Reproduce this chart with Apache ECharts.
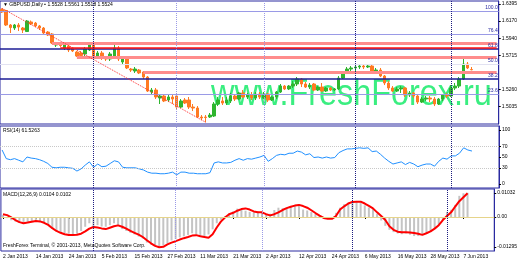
<!DOCTYPE html>
<html>
<head>
<meta charset="utf-8">
<script src="https://cdn.jsdelivr.net/npm/echarts@6/dist/echarts.min.js"></script>
<style>
html,body{margin:0;padding:0;background:#ffffff;}
#chart{width:520px;height:260px;}
</style>
</head>
<body>
<div id="chart"></div>
<script>
// ---------- DATA ----------
const monthDays = {
  Jan: [2,3,4,7,8,9,10,11,14,15,16,17,18,21,22,23,24,25,28,29,30,31],
  Feb: [1,4,5,6,7,8,11,12,13,14,15,18,19,20,21,22,25,26,27,28],
  Mar: [1,4,5,6,7,8,11,12,13,14,15,18,19,20,21,22,25,26,27,28,29],
  Apr: [1,2,3,4,5,8,9,10,11,12,15,16,17,18,19,22,23,24,25,26,29,30],
  May: [1,2,3,6,7,8,9,10,13,14,15,16,17,20,21,22,23,24,27,28,29,30,31],
  Jun: [3,4,5,6,7,10,11,12,13,14,17,18]
};
const categories = [];
Object.keys(monthDays).forEach(m => monthDays[m].forEach(d => categories.push(d + ' ' + m + ' 2013')));

const open = [1.6322,1.6309,1.6117,1.6077,1.6117,1.6077,1.6031,1.6157,1.6143,1.6104,
1.6077,1.6024,1.5998,1.5852,1.5852,1.5812,1.5839,1.5812,1.5759,1.5746,
1.5733,1.5786,1.5865,1.5706,1.5746,1.5680,1.5667,1.5706,1.5812,1.5627,
1.5667,1.5534,1.5508,1.5521,1.5495,1.5428,1.5230,1.5256,1.5150,1.5177,
1.5124,1.5164,1.5177,1.5031,1.5124,1.5124,1.5031,1.5018,1.4899,1.4899,
1.4899,1.4912,1.5071,1.5111,1.5084,1.5111,1.5177,1.5137,1.5217,1.5164,
1.5190,1.5150,1.5203,1.5150,1.5203,1.5124,1.5164,1.5230,1.5309,1.5270,
1.5309,1.5336,1.5402,1.5336,1.5296,1.5336,1.5256,1.5296,1.5243,1.5283,
1.5256,1.5270,1.5415,1.5482,1.5534,1.5548,1.5561,1.5574,1.5561,1.5574,
1.5495,1.5521,1.5442,1.5349,1.5283,1.5243,1.5270,1.5283,1.5190,1.5217,
1.5177,1.5097,1.5137,1.5150,1.5137,1.5071,1.5137,1.5190,1.5177,1.5283,
1.5309,1.5402,1.5600,1.5528];
const close = [1.6289,1.6117,1.6084,1.6117,1.6090,1.6051,1.6170,1.6130,1.6104,1.6077,
1.6011,1.5985,1.5879,1.5872,1.5845,1.5865,1.5786,1.5773,1.5706,1.5713,
1.5799,1.5865,1.5706,1.5746,1.5693,1.5667,1.5733,1.5812,1.5667,1.5667,
1.5548,1.5521,1.5534,1.5482,1.5428,1.5243,1.5256,1.5164,1.5177,1.5111,
1.5164,1.5137,1.5031,1.5111,1.5084,1.5031,1.5018,1.4899,1.4886,1.4892,
1.4925,1.5071,1.5124,1.5084,1.5124,1.5177,1.5137,1.5217,1.5164,1.5190,
1.5150,1.5203,1.5164,1.5203,1.5124,1.5164,1.5230,1.5309,1.5270,1.5309,
1.5336,1.5402,1.5336,1.5296,1.5322,1.5256,1.5296,1.5243,1.5283,1.5256,
1.5270,1.5415,1.5482,1.5534,1.5548,1.5561,1.5574,1.5561,1.5574,1.5495,
1.5521,1.5442,1.5349,1.5283,1.5243,1.5270,1.5283,1.5190,1.5217,1.5177,
1.5097,1.5137,1.5150,1.5137,1.5071,1.5137,1.5190,1.5177,1.5283,1.5309,
1.5402,1.5600,1.5548,1.5524];
const low = [1.6276,1.6104,1.6011,1.6051,1.6037,1.6011,1.6024,1.6117,1.6090,1.6051,
1.5998,1.5971,1.5865,1.5826,1.5826,1.5786,1.5759,1.5759,1.5693,1.5693,
1.5706,1.5773,1.5680,1.5680,1.5654,1.5640,1.5640,1.5693,1.5640,1.5600,
1.5534,1.5495,1.5482,1.5468,1.5402,1.5230,1.5190,1.5137,1.5071,1.5097,
1.5097,1.5071,1.4992,1.5018,1.5071,1.5005,1.4978,1.4886,1.4859,1.4829,
1.4886,1.4899,1.5044,1.5058,1.5058,1.5084,1.5111,1.5124,1.5150,1.5137,
1.5124,1.5124,1.5137,1.5137,1.5097,1.5111,1.5137,1.5217,1.5256,1.5256,
1.5283,1.5309,1.5296,1.5283,1.5270,1.5243,1.5243,1.5230,1.5230,1.5243,
1.5243,1.5256,1.5402,1.5468,1.5495,1.5508,1.5534,1.5534,1.5548,1.5482,
1.5482,1.5428,1.5322,1.5256,1.5230,1.5230,1.5217,1.5164,1.5164,1.5150,
1.5071,1.5084,1.5111,1.5097,1.5044,1.5058,1.5111,1.5150,1.5164,1.5256,
1.5283,1.5389,1.5534,1.5518];
const high = [1.6338,1.6316,1.6130,1.6130,1.6143,1.6090,1.6183,1.6176,1.6157,1.6117,
1.6090,1.6037,1.6011,1.5892,1.5879,1.5892,1.5852,1.5826,1.5773,1.5773,
1.5826,1.5879,1.5879,1.5773,1.5773,1.5693,1.5759,1.5865,1.5839,1.5693,
1.5680,1.5548,1.5561,1.5534,1.5508,1.5442,1.5283,1.5283,1.5203,1.5203,
1.5203,1.5190,1.5203,1.5137,1.5150,1.5164,1.5071,1.5044,1.4925,1.4925,
1.4952,1.5097,1.5164,1.5164,1.5164,1.5217,1.5203,1.5230,1.5256,1.5217,
1.5230,1.5230,1.5230,1.5230,1.5217,1.5177,1.5243,1.5336,1.5322,1.5322,
1.5375,1.5428,1.5415,1.5362,1.5349,1.5349,1.5309,1.5349,1.5296,1.5296,
1.5283,1.5442,1.5508,1.5561,1.5574,1.5587,1.5600,1.5600,1.5600,1.5587,
1.5548,1.5548,1.5455,1.5375,1.5309,1.5296,1.5309,1.5296,1.5243,1.5230,
1.5203,1.5164,1.5177,1.5177,1.5164,1.5150,1.5203,1.5217,1.5322,1.5349,
1.5428,1.5680,1.5627,1.5561];

const rsi = [63,47,45,47,44,41,50,48,47,45,
42,38,31,30,31,31,30,29,24,28,
35,41,31,37,32,33,38,43,41,31,
30,30,30,28,26,22,20,20,19,19,
20,22,17,22,22,20,20,19,19,19,
21,39,41,39,39,40,44,47,44,47,
46,48,50,53,42,47,53,55,54,57,
57,61,59,54,56,49,50,48,50,48,
49,58,62,65,65,66,67,66,67,60,
61,55,48,42,37,39,41,36,40,37,
32,35,37,37,33,42,48,46,52,52,
57,67,63,61];

const macdHist = [0.0008,-0.0005,-0.0014,-0.0019,-0.0025,-0.0024,-0.0021,-0.0017,-0.0014,-0.0019,
-0.0025,-0.0034,-0.0050,-0.0061,-0.0066,-0.0069,-0.0072,-0.0075,-0.0072,-0.0060,
-0.0042,-0.0027,-0.0040,-0.0035,-0.0041,-0.0042,-0.0035,-0.0027,-0.0034,-0.0052,
-0.0060,-0.0068,-0.0075,-0.0084,-0.0092,-0.0110,-0.0118,-0.0123,-0.0128,-0.0121,
-0.0113,-0.0101,-0.0094,-0.0088,-0.0083,-0.0077,-0.0070,-0.0075,-0.0083,-0.0082,
-0.0075,-0.0053,-0.0027,-0.0012,0.0003,0.0016,0.0024,0.0036,0.0031,0.0027,
0.0022,0.0020,0.0024,0.0021,0.0013,0.0014,0.0030,0.0040,0.0037,0.0040,
0.0046,0.0052,0.0050,0.0032,0.0028,0.0021,0.0012,0.0004,-0.0003,-0.0009,
-0.0004,0.0018,0.0040,0.0055,0.0062,0.0066,0.0069,0.0064,0.0050,0.0041,
0.0035,0.0014,-0.0015,-0.0038,-0.0055,-0.0065,-0.0071,-0.0074,-0.0071,-0.0076,
-0.0082,-0.0082,-0.0077,-0.0071,-0.0064,-0.0047,-0.0035,-0.0012,0.0022,0.0031,
0.0052,0.0091,0.0102,0.0104];
const macdSignal = [0.0012,0.0008,-0.0002,-0.0013,-0.0022,-0.0027,-0.0024,-0.0020,-0.0017,-0.0019,
-0.0025,-0.0034,-0.0048,-0.0060,-0.0068,-0.0074,-0.0077,-0.0077,-0.0076,-0.0072,
-0.0062,-0.0050,-0.0043,-0.0045,-0.0049,-0.0052,-0.0046,-0.0040,-0.0036,-0.0042,
-0.0050,-0.0060,-0.0068,-0.0076,-0.0086,-0.0100,-0.0113,-0.0124,-0.0130,-0.0128,
-0.0118,-0.0110,-0.0104,-0.0097,-0.0091,-0.0086,-0.0080,-0.0078,-0.0083,-0.0086,
-0.0089,-0.0074,-0.0045,-0.0020,-0.0002,0.0012,0.0018,0.0027,0.0034,0.0037,
0.0032,0.0024,0.0020,0.0020,0.0012,0.0007,0.0012,0.0020,0.0030,0.0038,
0.0044,0.0049,0.0052,0.0047,0.0040,0.0029,0.0017,0.0006,-0.0004,-0.0008,
-0.0008,0.0004,0.0032,0.0046,0.0058,0.0065,0.0066,0.0066,0.0058,0.0048,
0.0037,0.0020,0.0004,-0.0013,-0.0040,-0.0055,-0.0063,-0.0066,-0.0066,-0.0067,
-0.0069,-0.0072,-0.0077,-0.0070,-0.0062,-0.0050,-0.0035,-0.0013,0.0004,0.0020,
0.0045,0.0068,0.0085,0.0102];

// tick labels
const priceTicks = [1.6395, 1.6170, 1.5940, 1.5715, 1.5260, 1.5035, 1.4805];
const rsiTicks = [100, 70, 50, 30, 0];
const macdTicks = [0.01032, 0, -0.01295];
const macdTickLabels = ['0.01032', '0.00', '-0.01295'];

// drawing objects
const fibRatios = [100, 76.4, 61.8, 50, 38.2, 23.6, 0];
const fibAnchorBars = [0, 49];
const levelPrices = [1.5879, 1.5813, 1.5693, 1.5495];
const levelStartBars = [12, 14, 18, 34];
const separatorsDark = [22, 85, 108];
const separatorsLight = [42, 63];

const rsiTitle = 'RSI(14) 61.5263';
const macdTitle = 'MACD(12,26,9) 0.0104 0.0102';
const footer = 'FreshForex Terminal, \u00a9 2001-2013, MetaQuotes Software Corp.';
const watermark = 'www.FreshForex.ru';

// ---------- CHART ----------
const FONT = '"Liberation Sans", Arial, sans-serif';
const FS = 5;
const NAVY = '#2a2aa0';
const BULL = '#2fb52f', BEAR = '#ff7a22';
const N = open.length;
const last = N - 1;
const lastCat = categories.length - 1;
const candleData = open.map((o, i) => [o, close[i], low[i], high[i]]);

const fibHigh = high[fibAnchorBars[0]];
const fibLow = low[fibAnchorBars[1]];
const fibStyle = {
  '100': ['#9a9ae6', 1], '76.4': ['#9a9ae6', 1], '61.8': ['#1c1c96', 1.5],
  '50': ['#e2e2f2', 1], '38.2': ['#1c1c96', 1.5], '23.6': ['#9a9ae6', 1], '0': ['#5a5ad0', 1]
};
const levelStyle = [['#ff8c8c', 3], ['#ff1010', 1.5], ['#ff8c8c', 3], ['#ff8c8c', 3]];

function sepLines() {
  const out = [];
  separatorsDark.forEach(i => out.push({xAxis: i, lineStyle: {color: '#1c1c80', type: 'dotted', width: 1}}));
  separatorsLight.forEach(i => out.push({xAxis: i, lineStyle: {color: '#9a9ae6', type: 'dotted', width: 1}}));
  return out;
}

const mainLines = [];
fibRatios.forEach(r => {
  const v = fibLow + (fibHigh - fibLow) * r / 100;
  const st = fibStyle[String(r)];
  mainLines.push({
    yAxis: v,
    lineStyle: {color: st[0], width: st[1], type: 'solid'},
    label: {show: true, position: 'insideEndTop', formatter: r.toFixed(1), color: '#2a2aa0',
            fontSize: FS, fontFamily: FONT, distance: 1}
  });
});
levelPrices.forEach((v, k) => {
  mainLines.push([
    {coord: [levelStartBars[k], v], lineStyle: {color: levelStyle[k][0], width: levelStyle[k][1], type: 'solid'}},
    {coord: [lastCat, v]}
  ]);
});
mainLines.push([
  {coord: [fibAnchorBars[0], fibHigh], lineStyle: {color: '#ff3030', width: 1, type: 'dotted'}},
  {coord: [fibAnchorBars[1], fibLow]}
]);
sepLines().forEach(l => mainLines.push(l));
mainLines.push({
  yAxis: close[last],
  lineStyle: {opacity: 0},
  label: {show: true, position: 'end', formatter: close[last].toFixed(4), color: '#ffffff',
          backgroundColor: '#14147a', fontSize: FS, fontFamily: FONT, padding: [1, 1, 1, 1], distance: 1}
});

const rsiLines = [
  {yAxis: 70, lineStyle: {color: '#c8c8c8', type: 'dotted', width: 1}},
  {yAxis: 30, lineStyle: {color: '#c8c8c8', type: 'dotted', width: 1}}
].concat(sepLines());
const macdLines = [
  {yAxis: 0, lineStyle: {color: '#e6d48a', type: 'solid', width: 1}}
].concat(sepLines());

const labelInterval = i => i % 8 === 0 && i <= 112;

function yAxisCommon(gridIndex, min, max, ticks, fmt) {
  return {
    type: 'value', gridIndex, position: 'right', min, max, scale: true,
    splitLine: {show: false},
    axisLine: {show: true, lineStyle: {color: NAVY, width: 1}},
    axisTick: {show: true, customValues: ticks, length: 2, lineStyle: {color: '#000'}},
    axisLabel: {show: true, customValues: ticks, formatter: fmt, fontSize: FS, fontFamily: FONT, color: '#000', margin: 3}
  };
}

const option = {
  animation: false,
  backgroundColor: '#ffffff',
  textStyle: {fontFamily: FONT},
  grid: [
    {left: 0, right: 21, top: 1, height: 123, show: true, borderColor: NAVY, borderWidth: 1},
    {left: 0, right: 21, top: 126, height: 62, show: true, borderColor: NAVY, borderWidth: 1},
    {left: 0, right: 21, top: 189, height: 62, show: true, borderColor: NAVY, borderWidth: 1}
  ],
  xAxis: [0, 1, 2].map(g => ({
    type: 'category', gridIndex: g, data: categories, boundaryGap: true,
    axisLine: {show: false},
    axisTick: g === 2 ? {show: true, interval: labelInterval, alignWithLabel: true, length: 2, lineStyle: {color: '#000'}} : {show: false},
    axisLabel: g === 2 ? {show: true, interval: labelInterval, align: 'left', fontSize: FS, fontFamily: FONT, color: '#000', margin: 3} : {show: false},
    splitLine: {show: false}
  })),
  yAxis: [
    yAxisCommon(0, 1.48064, 1.64347, priceTicks, v => v.toFixed(4)),
    yAxisCommon(1, -7.41, 107.41, rsiTicks, v => String(Math.round(v))),
    yAxisCommon(2, -0.01462, 0.01204, macdTicks, v => {
      const k = macdTicks.findIndex(t => Math.abs(t - v) < 1e-7);
      return k >= 0 ? macdTickLabels[k] : '';
    })
  ],
  graphic: [
    {type: 'text', x: 211, y: 95, scaleX: 0.9, z: 0, silent: true,
     style: {text: watermark, fill: '#3aee80', font: '36px ' + FONT, align: 'left', verticalAlign: 'middle'}},
    {type: 'text', x: 3, y: 5, z: 100, silent: true,
     style: {text: '\u25BC GBPUSD,Daily \u25AA ' + [open[last], high[last], low[last], close[last]].map(v => v.toFixed(4)).join(' '),
             fill: '#000', font: FS + 'px ' + FONT, align: 'left', verticalAlign: 'middle'}},
    {type: 'text', x: 3, y: 131, z: 100, silent: true,
     style: {text: rsiTitle, fill: '#000', font: FS + 'px ' + FONT, align: 'left', verticalAlign: 'middle'}},
    {type: 'text', x: 3, y: 194.5, z: 100, silent: true,
     style: {text: macdTitle, fill: '#000', font: FS + 'px ' + FONT, align: 'left', verticalAlign: 'middle'}},
    {type: 'text', x: 3, y: 245.5, z: 100, silent: true,
     style: {text: footer, fill: '#000', font: FS + 'px ' + FONT, align: 'left', verticalAlign: 'middle'}}
  ],
  series: [
    {
      type: 'candlestick', xAxisIndex: 0, yAxisIndex: 0, data: candleData, barWidth: 3, z: 3,
      itemStyle: {color: BULL, color0: BEAR, borderColor: BULL, borderColor0: BEAR, borderWidth: 1},
      markLine: {silent: true, symbol: ['none', 'none'], animation: false, label: {show: false}, data: mainLines}
    },
    {
      type: 'line', xAxisIndex: 1, yAxisIndex: 1, data: rsi, symbol: 'none',
      lineStyle: {color: '#2090ff', width: 1},
      markLine: {silent: true, symbol: ['none', 'none'], animation: false, label: {show: false}, data: rsiLines}
    },
    {
      type: 'bar', xAxisIndex: 2, yAxisIndex: 2, data: macdHist, barWidth: 2,
      itemStyle: {color: '#c4c4c4'},
      markLine: {silent: true, symbol: ['none', 'none'], animation: false, label: {show: false}, data: macdLines}
    },
    {
      type: 'line', xAxisIndex: 2, yAxisIndex: 2, data: macdSignal, symbol: 'none', z: 4,
      lineStyle: {color: '#ff0000', width: 2}
    }
  ]
};

const chart = echarts.init(document.getElementById('chart'), null, {renderer: 'canvas'});
chart.setOption(option);
</script>
</body>
</html>
